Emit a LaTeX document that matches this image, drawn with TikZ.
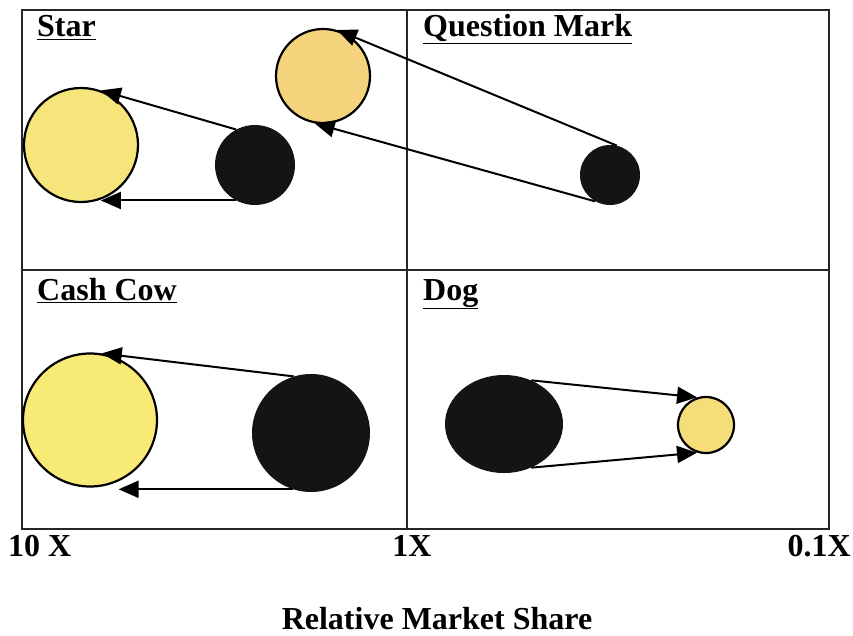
\documentclass[tikz,border=0pt]{standalone}
\usepackage{fontspec}
\setmainfont{Liberation Serif}
\usepackage{xcolor}
\usepackage{tikz}
\usetikzlibrary{shapes.geometric,arrows.meta}

\definecolor{staryellow}{RGB}{246,229,122}
\definecolor{qmyellow}{RGB}{243,212,124}
\definecolor{cowyellow}{RGB}{248,234,118}
\definecolor{dogyellow}{RGB}{245,221,122}

\begin{document}
\begin{tikzpicture}[
        x=1pt, y=-1pt,
        grid/.style={draw=black!85, line width=1.4pt},
        title/.style={font=\fontsize{32}{36}\selectfont\bfseries, anchor=base west, inner sep=0pt},
        axis/.style={font=\fontsize{32}{36}\selectfont\bfseries, anchor=base, inner sep=0pt},
        today/.style={circle, fill=black!92, inner sep=0pt},
        future/.style={circle, draw, line width=2.2pt, inner sep=0pt},
        arrow/.style={draw, -{Triangle[length=20pt,width=17pt]}, line width=2pt}
    ]
    \useasboundingbox (0,0) rectangle (853,636);

    % quadrants
    \draw [grid] (22,10) rectangle (829,529);
    \draw [grid] (407,10) -- (407,529);
    \draw [grid] (22,270) -- (829,270);

    \node [title] (star) at (37,37) {\underline{Star}};
    \node [title] (qmark) at (423,37) {\underline{Question Mark}};
    \node [title] (cow) at (37,300) {\underline{Cash Cow}};
    \node [title] (dog) at (423,300) {\underline{Dog}};

    % star
    \node [future, fill=staryellow, minimum size=114pt] (starbig) at (81,145) {};
    \node [today, minimum size=80pt] (starblk) at (255,165) {};

    % question mark
    \node [future, fill=qmyellow, minimum size=94pt] (qmbig) at (323,76) {};
    \node [today, minimum size=60pt] (qmblk) at (610,175) {};

    % cash cow
    \node [future, ellipse, fill=cowyellow, minimum width=134pt, minimum height=133pt] (cowbig) at (90,420) {};
    \node [today, minimum size=118pt] (cowblk) at (311,433) {};

    % dog
    \node [today, ellipse, minimum width=118pt, minimum height=98pt] (dogblk) at (504,424) {};
    \node [future, fill=dogyellow, minimum size=56pt] (dogsmall) at (706,425) {};

    \path [arrow] (starblk.118) -- (starbig.70);
    \path [arrow] (starblk.242) -- (starblk.242 -| starbig.290);
    \path [arrow] (qmblk.77) -- (qmbig.73);
    \path [arrow] (qmblk.241) -- (qmbig.260);
    \path [arrow] (cowblk.107) -- (cowbig.80);
    \path [arrow] (cowblk.252) -- (cowblk.252 -| cowbig.295);
    \path [arrow] (dogblk.58) -- (dogsmall.108);
    \path [arrow] (dogblk.302) -- (dogsmall.252);

    % axis
    \node [axis, anchor=base west] (tenx) at (8,556) {10 X};
    \node [axis] (onex) at (412,556) {1X};
    \node [axis, anchor=base east] (tenthx) at (851,556) {0.1X};
    \node [axis] (share) at (437,629) {Relative Market Share};

\end{tikzpicture}
\end{document}
